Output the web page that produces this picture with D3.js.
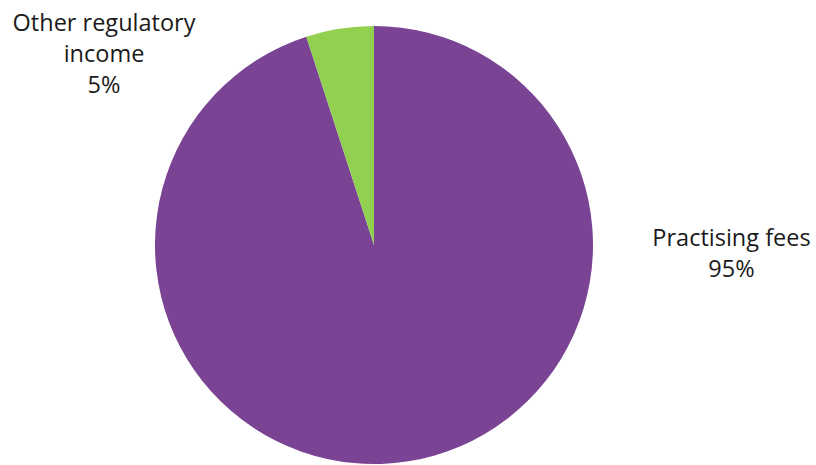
<!DOCTYPE html>
<html>
<head>
<meta charset="utf-8">
<script src="https://cdn.jsdelivr.net/npm/d3@7"></script>
<style>
  body { margin: 0; background: #fff; }
  text { font-family: "Open Sans", sans-serif; font-size: 23.5px; fill: #1a1a1a; }
</style>
</head>
<body>
<div id="chart"></div>
<script>
// chart data
var categories = ["Practising fees", "Other regulatory income"];
var shares = [95, 5];
var colors = ["#7A4393", "#92D050"];
var labelLines = [["Practising fees", "95%"], ["Other regulatory", "income", "5%"]];

const width = 816, height = 465;
const cx = 374, cy = 245, radius = 219;

var svg = d3.select("#chart")
  .append("svg")
    .attr("width", width)
    .attr("height", height);

var pie = d3.pie().sort(null).value(function(d) { return d.value; });
var arc = d3.arc().innerRadius(0).outerRadius(radius);

var data = categories.map(function(c, i) { return {name: c, value: shares[i], color: colors[i], lines: labelLines[i]}; });

var g = svg.append("g").attr("transform", "translate(" + cx + "," + cy + ")");

g.selectAll("path")
  .data(pie(data))
  .join("path")
    .attr("d", arc)
    .attr("fill", function(d) { return d.data.color; });

// label anchor points (centre x, first baseline y)
var labelPos = [[731.5, 246], [104, 31]];

svg.selectAll(".label")
  .data(data)
  .join("text")
    .attr("class", "label")
    .attr("text-anchor", "middle")
    .attr("transform", function(d, i) { return "translate(" + labelPos[i][0] + "," + labelPos[i][1] + ")"; })
  .selectAll("tspan")
  .data(function(d) { return d.lines; })
  .join("tspan")
    .attr("x", 0)
    .attr("y", function(d, i) { return i * 31; })
    .text(function(d) { return d; });
</script>
</body>
</html>
